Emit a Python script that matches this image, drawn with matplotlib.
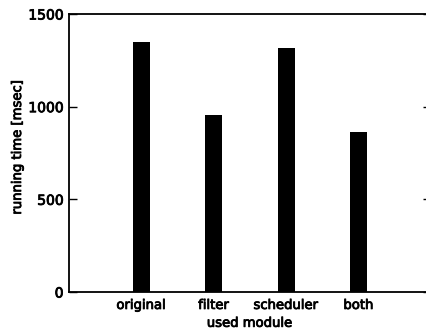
import matplotlib
matplotlib.use("Agg")
import matplotlib.pyplot as plt
import matplotlib.patheffects as pe

categories = ["original", "filter", "scheduler", "both"]
running_time = [1350, 955, 1315, 862]

fig = plt.figure(figsize=(4.26, 3.31), dpi=100)
W, H = 426, 331
ax = fig.add_axes([69 / W, 1 - 292 / H, 362 / W, 278 / H])

positions = list(range(1, len(categories) + 1))
ax.bar(positions, running_time, width=0.24, color="black", edgecolor="none", align="center")

ax.set_xlim(0, 5)
ax.set_ylim(0, 1500)
ax.set_yticks([0, 500, 1000, 1500])
ax.set_xticks(positions)
ax.set_xticklabels(categories)
ax.tick_params(axis="y", direction="in", length=5.5, width=1, labelsize=10, right=True, pad=4, color="black")
ax.tick_params(axis="x", direction="in", length=0, labelsize=9.5, pad=5)
for s in ax.spines.values():
    s.set_linewidth(1.3)
    s.set_color("black")
ax.set_xlabel("used module", fontsize=9.5, labelpad=3.5)
ax.set_ylabel("running time [msec]", fontsize=9.5)
ax.yaxis.set_label_coords((24 - 69) / 362, (292 - 146.5) / 278)

effect = [pe.withStroke(linewidth=0.6, foreground="black")]
for t in ax.get_xticklabels() + ax.get_yticklabels() + [ax.xaxis.label, ax.yaxis.label]:
    t.set_path_effects(effect)

fig.savefig("out.png", dpi=100)
